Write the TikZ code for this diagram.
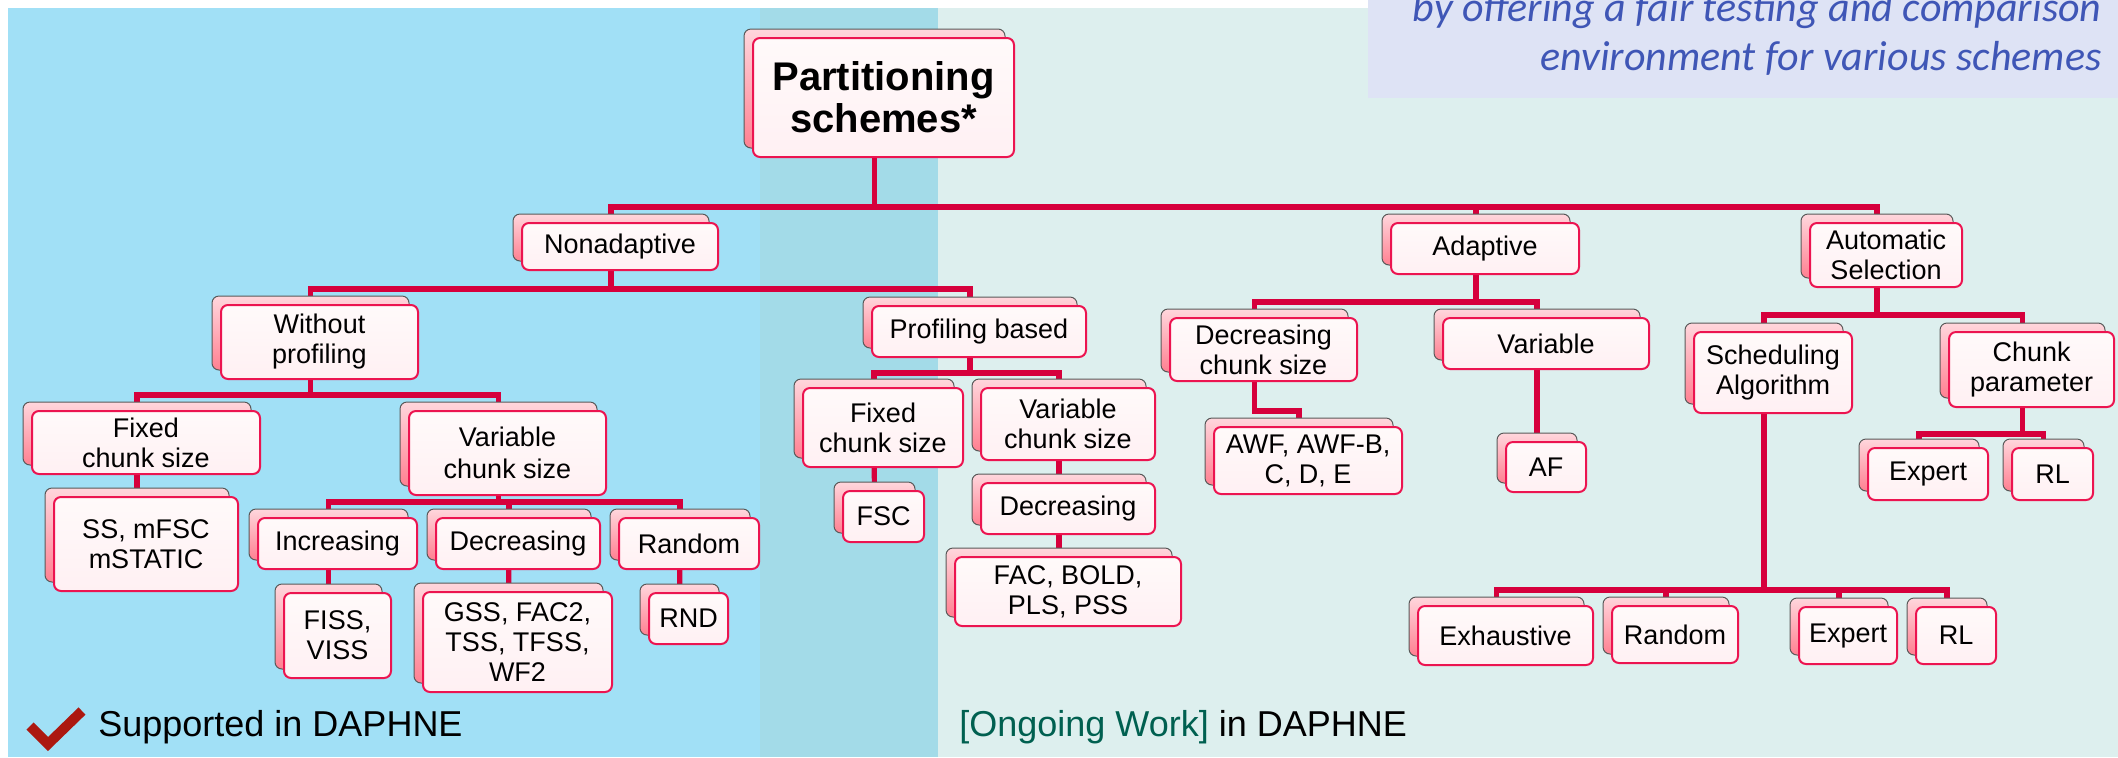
\documentclass[tikz,border=0pt]{standalone}
\usepackage{fontspec}
\setmainfont{Liberation Sans}
\newfontfamily\calibit{Carlito}[ItalicFont=* Italic]
\usetikzlibrary{calc}

\definecolor{skyband}{RGB}{161,224,246}
\definecolor{mixband}{RGB}{163,219,232}
\definecolor{mintband}{RGB}{221,239,238}
\definecolor{noteband}{RGB}{222,227,245}
\definecolor{notetext}{RGB}{63,86,182}
\definecolor{linecol}{RGB}{214,0,60}
\definecolor{framecol}{RGB}{236,20,80}
\definecolor{frontA}{RGB}{255,250,250}
\definecolor{frontB}{RGB}{255,240,243}
\definecolor{backA}{RGB}{255,214,220}
\definecolor{backB}{RGB}{255,128,145}
\definecolor{checkcol}{RGB}{172,24,16}
\definecolor{ongoing}{RGB}{0,96,80}

\pgfdeclarelayer{bgfill}
\pgfdeclarelayer{lines}
\pgfsetlayers{bgfill,lines,main}

\tikzset{
  conn/.style={draw=linecol, line width=2.6pt},
  frontbox/.style={draw=framecol, line width=1pt, rounded corners=3.5pt,
    top color=frontA, bottom color=frontB, inner sep=0pt, align=center,
    font=\fontsize{13.5}{15}\selectfont},
  backbox/.style={draw=gray!70!black, line width=0.5pt, rounded corners=3.5pt,
    top color=backA, bottom color=backB, inner sep=0pt},
  legend/.style={inner sep=0pt, anchor=base west, font=\fontsize{18}{20}\selectfont},
  note/.style={inner sep=0pt, anchor=base east, text=notetext,
    font=\calibit\itshape\fontsize{21}{24}\selectfont},
}

% tree box: a shifted pink card behind a framed card
% [extra style]{name}{centre x}{centre y}{width}{height}{text}
\newcommand\tnode[7][]{%
  \node[backbox, minimum width=#5*0.5pt, minimum height=#6*0.5pt] (#2-b) at (#3-9,#4-9) {};
  \node[frontbox, minimum width=#5*0.5pt, minimum height=#6*0.5pt, #1] (#2) at (#3,#4) {#7};
}

\begin{document}
\begin{tikzpicture}[x=0.5pt, y=-0.5pt]
\useasboundingbox (0,0) rectangle (2118,757);
\clip (0,0) rectangle (2118,757);

% background bands
\begin{pgfonlayer}{bgfill}
  \fill[white] (0,0) rectangle (2118,757);
  \fill[skyband] (8,8) rectangle (760,757);
  \fill[mixband] (760,8) rectangle (938,757);
  \fill[mintband] (938,8) rectangle (2118,757);
  \fill[noteband] (1368,0) rectangle (2118,98);
\end{pgfonlayer}

% note in the upper right corner
\node[note] (note1) at (2102,21) {by offering a fair testing and comparison};
\node[note] (note2) at (2102,70) {environment for various schemes};

% root
\tnode[font=\bfseries\fontsize{20}{21}\selectfont]{root}{883.5}{97.5}{261}{119}{Partitioning\\schemes*}

% first level
\tnode{nonad}{620}{246.5}{196}{47}{Nonadaptive}
\tnode{adapt}{1485}{248.5}{188}{51}{Adaptive}
\tnode{autosel}{1886}{255}{152}{64}{Automatic\\Selection}

% nonadaptive branch
\tnode{woprof}{319.5}{342}{197}{74}{Without\\profiling}
\tnode{profb}{979}{331.5}{214}{51}{Profiling based}

\tnode{fixl}{146}{442.5}{228}{63}{Fixed\\chunk size}
\tnode[font=\fontsize{13.5}{16}\selectfont]{varl}{507.5}{453}{197}{84}{Variable\\chunk size}
\tnode{ssm}{146}{544}{184}{94}{SS, mFSC\\mSTATIC}
\tnode{inc}{337.5}{543.5}{159}{51}{Increasing}
\tnode{dec}{518}{543.5}{164}{51}{Decreasing}
\tnode{rnd}{689}{543.5}{140}{51}{Random}
\tnode{fiss}{337.5}{635.5}{107}{85}{FISS,\\VISS}
\tnode{gss}{517.5}{642}{189}{100}{GSS, FAC2,\\TSS, TFSS,\\WF2}
\tnode{rndl}{688.5}{618.5}{79}{51}{RND}

\tnode{fixp}{883}{427.5}{160}{79}{Fixed\\chunk size}
\tnode{varp}{1068}{424}{174}{72}{Variable\\chunk size}
\tnode{fsc}{883.5}{516.5}{81}{51}{FSC}
\tnode{pdec}{1068}{508.5}{174}{51}{Decreasing}
\tnode{fac}{1068}{591.5}{226}{69}{FAC, BOLD,\\PLS, PSS}

% adaptive branch
\tnode{adec}{1263.5}{349.5}{187}{63}{Decreasing\\chunk size}
\tnode{avar}{1546}{343.5}{206}{51}{Variable}
\tnode{awf}{1308}{460.5}{188}{67}{AWF, AWF-B,\\C, D, E}
\tnode{af}{1546}{467}{80}{50}{AF}

% automatic selection branch
\tnode{sched}{1773}{372.5}{158}{81}{Scheduling\\Algorithm}
\tnode{chunkp}{2031.5}{369.5}{165}{75}{Chunk\\parameter}
\tnode{cexp}{1928}{474}{120}{52}{Expert}
\tnode{crl}{2052.5}{474}{81}{52}{RL}
\tnode{exh}{1505.5}{635.5}{175}{59}{Exhaustive}
\tnode{srnd}{1675}{634.5}{126}{57}{Random}
\tnode{sexp}{1848}{635.5}{98}{57}{Expert}
\tnode{srl}{1956}{635.5}{80}{57}{RL}

% levels of the horizontal bars
\coordinate (barroot) at (0,207);
\coordinate (barnonad) at (0,289);
\coordinate (baradapt) at (0,302);
\coordinate (barauto) at (0,315);
\coordinate (barwo) at (0,395);
\coordinate (barprof) at (0,373);
\coordinate (barvarl) at (0,502);
\coordinate (barjog) at (0,411);
\coordinate (barchunk) at (0,434);
\coordinate (barsched) at (0,590);

% connectors
\begin{pgfonlayer}{lines}
  \foreach \c in {nonad,adapt,autosel}
    \draw[conn] (root-b.center) |- (barroot -| \c-b.center) -- (\c-b.center);
  \foreach \c in {woprof,profb}
    \draw[conn] (nonad-b.center) |- (barnonad -| \c-b.center) -- (\c-b.center);
  \foreach \c in {fixl,varl}
    \draw[conn] (woprof-b.center) |- (barwo -| \c-b.center) -- (\c-b.center);
  \foreach \c in {inc,dec,rnd}
    \draw[conn] (varl-b.center) |- (barvarl -| \c-b.center) -- (\c-b.center);
  \draw[conn] (fixl-b.center) -- (ssm-b.center);
  \draw[conn] (inc-b.center) -- (fiss-b.center);
  \draw[conn] (dec-b.center) -- (gss-b.center);
  \draw[conn] (rnd-b.center) -- (rndl-b.center);
  \foreach \c in {fixp,varp}
    \draw[conn] (profb-b.center) |- (barprof -| \c-b.center) -- (\c-b.center);
  \draw[conn] (fixp-b.center) -- (fsc-b.center);
  \draw[conn] (varp-b.center) -- (pdec-b.center);
  \draw[conn] (pdec-b.center) -- (fac-b.center);
  \foreach \c in {adec,avar}
    \draw[conn] (adapt-b.center) |- (baradapt -| \c-b.center) -- (\c-b.center);
  \draw[conn] (adec-b.center) |- (barjog -| awf-b.center) -- (awf-b.center);
  \draw[conn] (avar-b.center) -- (af-b.center);
  \foreach \c in {sched,chunkp}
    \draw[conn] (autosel-b.center) |- (barauto -| \c-b.center) -- (\c-b.center);
  \foreach \c in {cexp,crl}
    \draw[conn] (chunkp-b.center) |- (barchunk -| \c-b.center) -- (\c-b.center);
  \foreach \c in {exh,srnd,sexp,srl}
    \draw[conn] (sched-b.center) |- (barsched -| \c-b.center) -- (\c-b.center);
\end{pgfonlayer}

% legend
\draw[checkcol, line width=5pt, line cap=butt, line join=miter]
  (30,726) -- (48,744) -- (82,711);
\node[legend] (supported) at (98,736) {Supported in DAPHNE};
\node[legend] (ongoingwork) at (959,736) {\textcolor{ongoing}{[Ongoing Work]} in DAPHNE};
\end{tikzpicture}
\end{document}
